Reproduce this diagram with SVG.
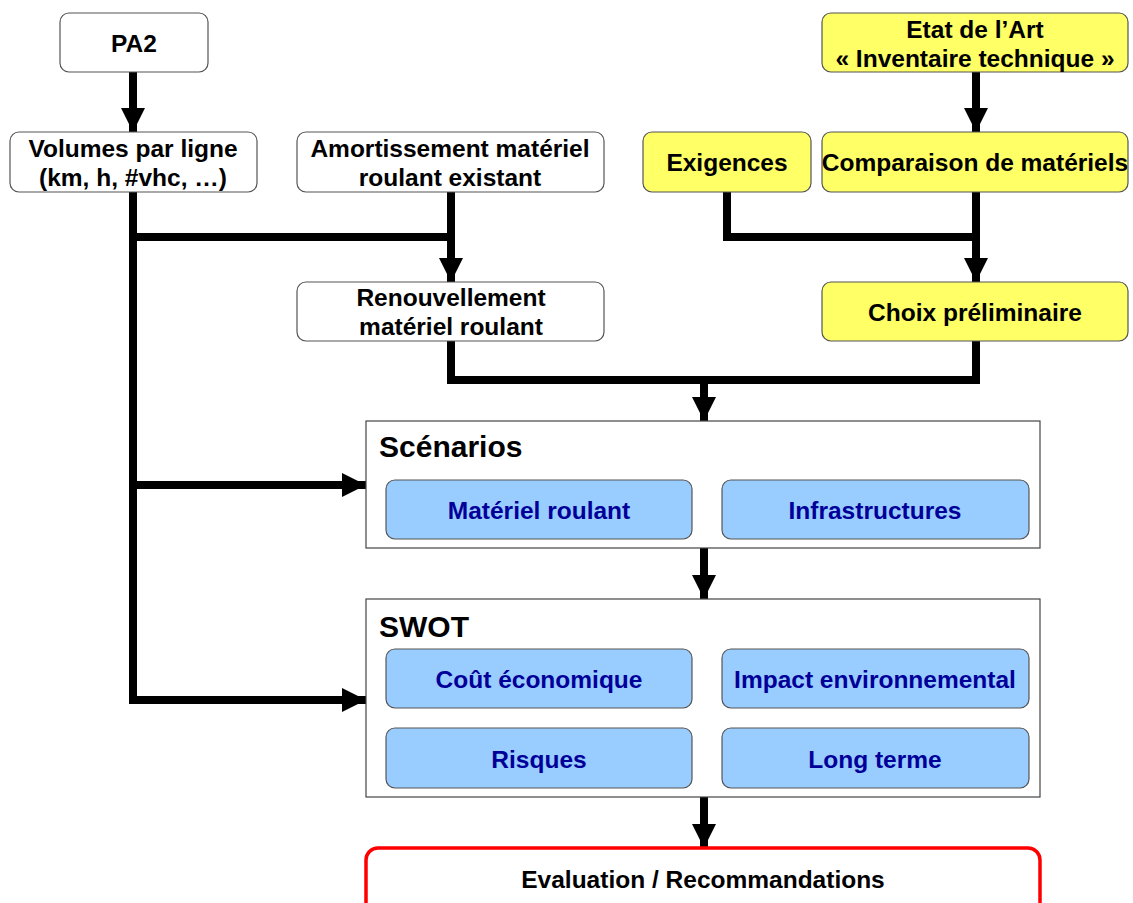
<svg xmlns="http://www.w3.org/2000/svg" width="1133" height="903" viewBox="0 0 1133 903">
<defs>
<marker id="ah" viewBox="0 0 10 10" refX="10" refY="5" markerWidth="3" markerHeight="3" markerUnits="strokeWidth" orient="auto">
<path d="M0,0 L10,5 L0,10 Z" fill="#000"/>
</marker>
</defs>
<style>
.w{fill:#fff;stroke:#555;stroke-width:1.2}
.y{fill:#ffff66;stroke:#555;stroke-width:1.2}
.b{fill:#99ccff;stroke:#555;stroke-width:1.2}
.c{fill:#fff;stroke:#444;stroke-width:1.2}
.r{fill:#fff;stroke:#ff0000;stroke-width:3.5}
.t{font-family:"Liberation Sans",Arial,sans-serif;font-weight:bold;font-size:24.5px;fill:#000;text-anchor:middle}
.bt{font-family:"Liberation Sans",Arial,sans-serif;font-weight:bold;font-size:24.5px;fill:#000099;text-anchor:middle}
.h{font-family:"Liberation Sans",Arial,sans-serif;font-weight:bold;font-size:30px;fill:#000}
.k{fill:none;stroke:#000;stroke-width:8}
.a{fill:none;stroke:#000;stroke-width:8;marker-end:url(#ah)}
</style>
<rect width="1133" height="903" fill="#fff"/>
<g id="connectors">
<path class="a" d="M133,72 V132"/>
<path class="k" d="M133,192 V700 H340"/>
<path class="a" d="M133,485 H366"/>
<path class="a" d="M336,700 H366"/>
<path class="k" d="M133,237 H451"/>
<path class="a" d="M451,192 V282"/>
<path class="k" d="M451,341 V380 H976 V341"/>
<path class="a" d="M704,380 V421"/>
<path class="a" d="M976,72 V132"/>
<path class="k" d="M727,192 V237 H976"/>
<path class="a" d="M976,192 V282"/>
<path class="a" d="M704,548 V599"/>
<path class="a" d="M704,797 V848"/>
</g>
<g id="pa2"><rect class="w" x="60" y="13" width="148" height="59" rx="9"/><text class="t" x="134" y="52">PA2</text></g>
<g id="volumes"><rect class="w" x="10" y="132" width="247" height="60" rx="9"/><text class="t" x="133" y="157">Volumes par ligne</text><text class="t" x="133" y="186">(km, h, #vhc, …)</text></g>
<g id="amortissement"><rect class="w" x="297" y="132" width="307" height="60" rx="9"/><text class="t" x="450" y="157">Amortissement matériel</text><text class="t" x="450" y="186">roulant existant</text></g>
<g id="exigences"><rect class="y" x="643" y="132" width="168" height="60" rx="9"/><text class="t" x="727" y="171">Exigences</text></g>
<g id="etat"><rect class="y" x="822" y="13" width="306" height="59" rx="9"/><text class="t" x="975" y="38">Etat de l’Art</text><text class="t" x="975" y="67">« Inventaire technique »</text></g>
<g id="comparaison"><rect class="y" x="822" y="132" width="306" height="60" rx="9"/><text class="t" x="975" y="171">Comparaison de matériels</text></g>
<g id="renouvellement"><rect class="w" x="297" y="282" width="307" height="59" rx="9"/><text class="t" x="451" y="306">Renouvellement</text><text class="t" x="451" y="335">matériel roulant</text></g>
<g id="choix"><rect class="y" x="822" y="282" width="306" height="59" rx="9"/><text class="t" x="975" y="321">Choix préliminaire</text></g>
<g id="scenarios"><rect class="c" x="366" y="421" width="674" height="127"/><text class="h" x="379" y="457">Scénarios</text>
<g id="materiel"><rect class="b" x="386" y="480" width="306" height="59" rx="9"/><text class="bt" x="539" y="519">Matériel roulant</text></g>
<g id="infra"><rect class="b" x="722" y="480" width="307" height="59" rx="9"/><text class="bt" x="875" y="519">Infrastructures</text></g>
</g>
<g id="swot"><rect class="c" x="366" y="599" width="674" height="198"/><text class="h" x="379" y="637">SWOT</text>
<g id="cout"><rect class="b" x="386" y="649" width="306" height="59" rx="9"/><text class="bt" x="539" y="688">Coût économique</text></g>
<g id="impact"><rect class="b" x="722" y="649" width="307" height="59" rx="9"/><text class="bt" x="875" y="688">Impact environnemental</text></g>
<g id="risques"><rect class="b" x="386" y="728" width="306" height="60" rx="9"/><text class="bt" x="539" y="768">Risques</text></g>
<g id="longterme"><rect class="b" x="722" y="728" width="307" height="60" rx="9"/><text class="bt" x="875" y="768">Long terme</text></g>
</g>
<g id="evaluation"><rect class="r" x="366" y="848" width="674" height="70" rx="12"/><text class="t" x="703" y="888">Evaluation / Recommandations</text></g>
</svg>
